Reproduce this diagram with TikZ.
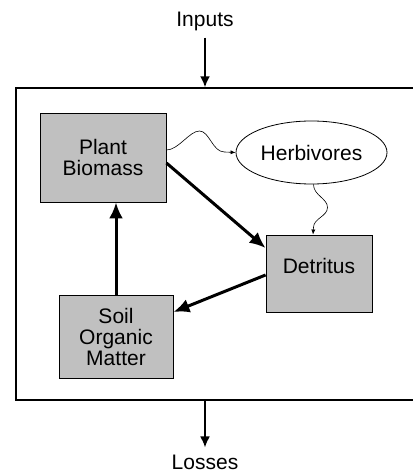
\documentclass[tikz,border=0pt]{standalone}
\usepackage{fontspec}
\setmainfont{Liberation Sans}
\usetikzlibrary{arrows.meta,shapes.geometric}
\definecolor{boxgray}{RGB}{192,192,192}
\begin{document}
\begin{tikzpicture}[x=1pt,y=-1pt,
  lbl/.style={font=\fontsize{21}{21}\selectfont, inner sep=0pt},
  pool/.style={draw, line width=0.9pt, fill=boxgray, align=center, inner sep=0pt,
    font=\fontsize{21}{21}\selectfont},
  thick flow/.style={line width=3pt, -{Latex[length=16pt,width=14pt]}},
  io flow/.style={line width=2pt, -{Latex[length=11pt,width=10pt]}},
  wavy flow/.style={line width=0.6pt, -{Latex[length=5pt,width=4pt]}}]
\useasboundingbox (0,0) rectangle (412,473);
\node[draw, line width=1.3pt, minimum width=400pt, minimum height=312pt, inner sep=0pt] (sys) at (216,244) {};
\node[lbl] (inputs) at (205,21) {Inputs};
\node[lbl] (losses) at (205,462) {Losses};
\node[pool, minimum width=126pt, minimum height=89pt] (plant) at (103,157.5) {Plant\\Biomass};
\node[draw, ellipse, line width=0.8pt, minimum width=151pt, minimum height=63pt, inner sep=0pt,
  font=\fontsize{21}{21}\selectfont] (herb) at (311.5,152.5) {Herbivores};
\node[pool, minimum width=106pt, minimum height=77pt, text height=15pt, text depth=15pt] (detritus) at (319,273.5) {Detritus};
\node[pool, minimum width=114pt, minimum height=83pt] (soil) at (116,336.5) {Soil\\Organic\\Matter};
\draw[io flow] ([yshift=-7pt]inputs.south) -- (inputs.south |- sys.north);
\draw[io flow] (losses.north |- sys.south) -- ([yshift=7pt]losses.north);
\draw[thick flow] ([yshift=-5.5pt]plant.east) -- ([yshift=25.5pt]detritus.west);
\draw[thick flow] ([yshift=-1.5pt]detritus.west) -- ([yshift=24.5pt]soil.east);
\draw[thick flow] (soil.north) -- (soil.north |- plant.south);
\draw[wavy flow] ([yshift=7.5pt]plant.east) .. controls +(12,0) and +(-10,0) .. ++(33,-19)
  .. controls +(10,0) and +(-12,0) .. ++(25,21) -- (herb.west);
\draw[wavy flow] ([xshift=2pt]herb.south) .. controls +(0,11) and +(0,-9) .. ++(14,23)
  .. controls +(0,9) and +(0,-9) .. ++(-14,20) -- ([xshift=-6pt]detritus.north);
\end{tikzpicture}
\end{document}
